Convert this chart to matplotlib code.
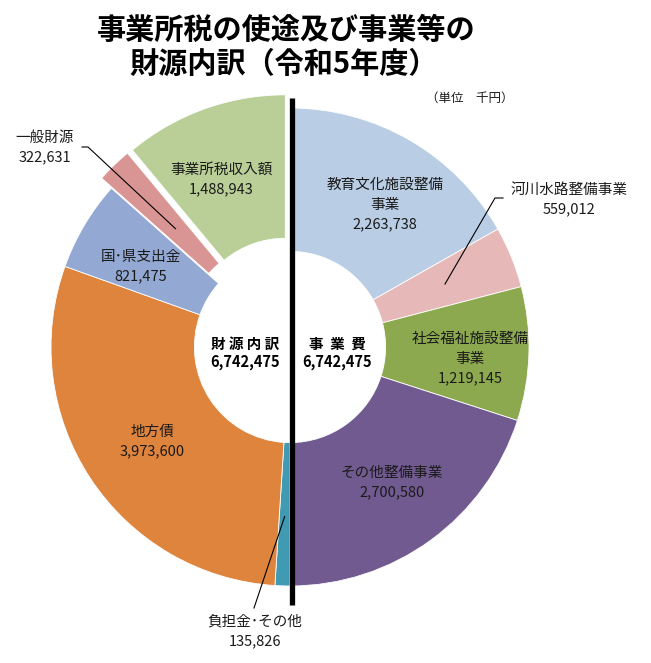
"""事業所税の使途及び事業等の財源内訳 — split doughnut (use on the right, sources on the left)."""

import numpy as np
import matplotlib

matplotlib.use("Agg")
import matplotlib.pyplot as plt

plt.rcParams["font.family"] = ["Noto Sans CJK JP", "DejaVu Sans"]

W, H = 651, 663          # canvas in pixels, axes use the same units
CX, CY = 290, 347        # doughnut centre (pixel, y from top)
R = 239                  # outer radius
HOLE = 0.40              # inner radius / outer radius
EXP = 14                 # offset of the pulled-out slices

# 事業費: right half, clockwise from the top
use_labels = ["教育文化施設整備\n事業", "河川水路整備事業", "社会福祉施設整備\n事業", "その他整備事業"]
use_values = [2263738, 559012, 1219145, 2700580]
use_colors = ["#b9cde4", "#e6b9b8", "#8ca94f", "#715a90"]

# 財源内訳: left half, clockwise from the bottom
src_labels = ["負担金･その他", "地方債", "国･県支出金", "一般財源", "事業所税収入額"]
src_values = [135826, 3973600, 821475, 322631, 1488943]
src_colors = ["#3f9ab2", "#de843d", "#93a9d3", "#d99594", "#b9cf97"]
src_pulled = [False, False, False, True, True]

INK = "#1a1a1a"


def Y(y):
    return H - y


def anchor(w, frac):
    """Point inside wedge w at its mid angle, frac of the outer radius."""
    mid = np.deg2rad((w.theta1 + w.theta2) / 2)
    cx, cy = w.center
    return cx + frac * w.r * np.cos(mid), cy + frac * w.r * np.sin(mid)


fig = plt.figure(figsize=(W / 100, H / 100), dpi=100)
fig.patch.set_facecolor("white")
ax = fig.add_axes([0, 0, 1, 1])

values = use_values + src_values
colors = use_colors + src_colors
explode = [0] * len(use_values) + [EXP if p else 0 for p in src_pulled]
wedges, _ = ax.pie(values, colors=colors, startangle=90, counterclock=False,
                   radius=R, center=(CX, Y(CY)), explode=explode,
                   wedgeprops=dict(width=R * (1 - HOLE), edgecolor="white",
                                   linewidth=0.6))
ax.set_xlim(0, W)
ax.set_ylim(0, H)
ax.set_aspect("equal")
ax.axis("off")

use_w = wedges[:len(use_values)]
src_w = wedges[len(use_values):]

# divider between the halves
ax.plot([292, 292], [Y(98), Y(605)], color="black", linewidth=3.8,
        solid_capstyle="butt", zorder=5)

# title and unit
ax.text(286, Y(30), "事業所税の使途及び事業等の", ha="center", va="center",
        fontsize=21, fontweight="bold", color="black")
ax.text(284, Y(64), "財源内訳（令和5年度）", ha="center", va="center",
        fontsize=21, fontweight="bold", color="black")
ax.text(470, Y(98), "（単位　千円）", ha="center", va="center",
        fontsize=9, color=INK)

# centre captions
total_src = sum(src_values)
total_use = sum(use_values)
ax.text(245, Y(344), "財 源 内 訳", ha="center", va="center",
        fontsize=10.5, fontweight="bold", color="black")
ax.text(245, Y(362), f"{total_src:,}", ha="center", va="center",
        fontsize=10.5, fontweight="bold", color="black")
ax.text(337, Y(344), "事  業  費", ha="center", va="center",
        fontsize=10.5, fontweight="bold", color="black")
ax.text(337, Y(362), f"{total_use:,}", ha="center", va="center",
        fontsize=10.5, fontweight="bold", color="black")

# slice labels: (x, y of first line) in pixels
use_pos = [(385, 185), (569, 190), (470, 339), (392, 473)]
src_pos = [(255, 622), (152, 432), (141, 257), (45, 138), (221, 170)]
LINE = 19.5
for labels, vals, pos in ((use_labels, use_values, use_pos),
                          (src_labels, src_values, src_pos)):
    for lab, v, (x, y) in zip(labels, vals, pos):
        lines = lab.split("\n") + [f"{v:,}"]
        for i, s in enumerate(lines):
            ax.text(x, Y(y + i * LINE), s, ha="center", va="center",
                    fontsize=10.5, color=INK)

# leader lines
lk = dict(color="black", linewidth=0.8, zorder=4)
ax_, ay_ = anchor(use_w[1], 0.70)
ax.plot([503, 495, ax_], [Y(198), Y(198), ay_], **lk)
ax_, ay_ = anchor(src_w[3], 0.63)
ax.plot([82, 88, ax_], [Y(147), Y(147), ay_], **lk)
ax_, ay_ = anchor(src_w[0], 0.71)
ax.plot([254, ax_], [Y(608), ay_], **lk)

fig.savefig("out.png", dpi=100, facecolor="white")
